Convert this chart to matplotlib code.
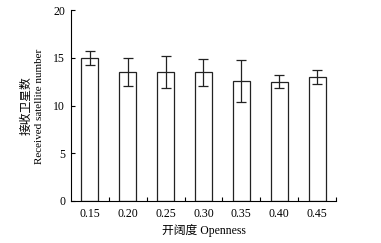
import numpy as np
import matplotlib.pyplot as plt

openness = [0.15, 0.20, 0.25, 0.30, 0.35, 0.40, 0.45]
labels = ['0.15', '0.20', '0.25', '0.30', '0.35', '0.40', '0.45']
sat_num = [15.0, 13.5, 13.5, 13.5, 12.55, 12.5, 13.0]
sat_err = [0.7, 1.45, 1.65, 1.4, 2.2, 0.68, 0.7]

plt.rcParams['font.family'] = ['Liberation Serif', 'Noto Sans CJK SC']
plt.rcParams['font.size'] = 8.5

fig = plt.figure(figsize=(3.81, 2.43), dpi=100)
ax = fig.add_axes([0.186, 0.173, 0.696, 0.785])

ax.bar(openness, sat_num, width=0.0225, color='white', edgecolor='#222222', linewidth=0.9,
       yerr=sat_err, capsize=3.5, error_kw=dict(ecolor='#222222', elinewidth=0.9, capthick=0.9))

ax.set_xlim(0.125, 0.475)
ax.set_ylim(0, 20)
ax.set_yticks([0, 5, 10, 15, 20])
ax.set_xticks(openness)
ax.set_xticklabels(labels)
ax.set_xticks(np.arange(0.175, 0.476, 0.05), minor=True)
ax.tick_params(axis='x', which='major', length=0, pad=5)
ax.tick_params(axis='x', which='minor', direction='in', length=3, width=0.8)
ax.tick_params(axis='y', direction='in', length=3, width=0.8, pad=4)

for s in ['top', 'right']:
    ax.spines[s].set_visible(False)
for s in ['left', 'bottom']:
    ax.spines[s].set_linewidth(0.8)

ax.set_xlabel('开阔度 Openness', labelpad=3)
# two-line y label, placed by hand
fig.text(27 / 381, 0.566, '接收卫星数', rotation=90, ha='center', va='center', fontsize=8.5)
fig.text(40 / 381, 0.563, 'Received satellite number', rotation=90, ha='center', va='center', fontsize=8)

fig.savefig('out.png', dpi=100)
